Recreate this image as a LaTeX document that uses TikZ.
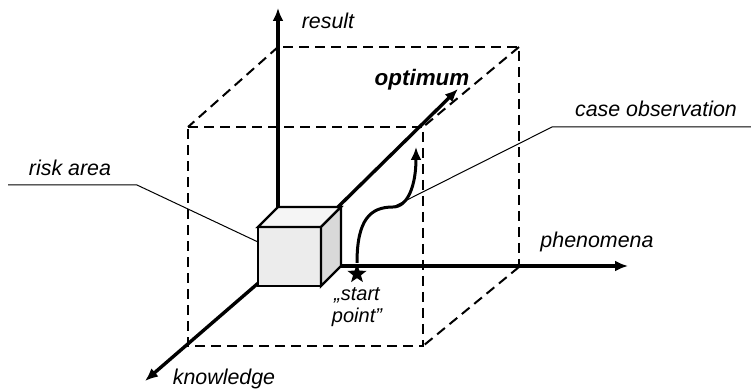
\documentclass[tikz,border=0pt]{standalone}
\usepackage{fontspec}
\setmainfont{Liberation Sans}
\usetikzlibrary{arrows.meta,shapes.geometric}

\begin{document}
\begin{tikzpicture}[x=0.5pt,y=-0.5pt,line join=miter,>={Latex[length=6.5pt,width=5.5pt]},
  axis/.style={line width=1.7pt,->},
  boxedge/.style={line width=1pt,dash pattern=on 5pt off 3pt},
  leader/.style={line width=0.5pt},
  lbl/.style={font=\fontsize{10.7}{12}\selectfont\itshape,inner sep=0pt}]
  \useasboundingbox (0,0) rectangle (751,389);
  % origin and axis ends
  \coordinate (O) at (278,266);
  \coordinate (res) at (278,8);
  \coordinate (phe) at (628,266);
  \coordinate (kno) at (145,381);
  \coordinate (opt) at (458,89);
  % dashed box
  \coordinate (bTL) at (278,47);
  \coordinate (bTR) at (519,47);
  \coordinate (bBR) at (519,267);
  \coordinate (fTL) at (188,127);
  \coordinate (fTR) at (423,127);
  \coordinate (fBR) at (423,346);
  \coordinate (fBL) at (188,346);
  \draw[boxedge] (O) -- (bTL) -- (bTR) -- (bBR);
  \draw[boxedge] (fTL) -- (fTR) -- (fBR) -- (fBL) -- cycle;
  \draw[boxedge] (bTL) -- (fTL);
  \draw[boxedge] (bTR) -- (fTR);
  \draw[boxedge] (bBR) -- (fBR);
  % axes
  \draw[axis] (O) -- (res);
  \draw[axis] (O) -- (phe);
  \draw[axis] (O) -- (kno);
  \draw[axis] (O) -- (opt);
  % risk area cube
  \coordinate (c1) at (258,227);
  \coordinate (c2) at (321,227);
  \coordinate (c3) at (321,286);
  \coordinate (c4) at (258,286);
  \coordinate (c5) at (278,207);
  \coordinate (c6) at (341,207);
  \coordinate (c7) at (341,266);
  \draw[line width=1.2pt,fill=gray!15] (c1) -- (c2) -- (c3) -- (c4) -- cycle;
  \draw[line width=1.2pt,fill=gray!8] (c1) -- (c5) -- (c6) -- (c2) -- cycle;
  \draw[line width=1.2pt,fill=gray!30] (c2) -- (c6) -- (c7) -- (c3) -- cycle;
  % start point and case observation path
  \node[star,star points=5,star point ratio=2.4,fill,inner sep=0pt,minimum size=10pt] (st) at (357,274) {};
  \coordinate (bend) at (393,207);
  \coordinate (obs) at (416,147);
  \draw[line width=1.5pt,->] (st.north) .. controls (357,220) and (370,207) .. (bend)
    .. controls (408,207) and (416,185) .. (obs);
  % labels
  \node[lbl] (lres) at (328,21) {result};
  \node[lbl,font=\fontsize{11.2}{13}\selectfont\itshape\bfseries] (lopt) at (422,80) {optimum};
  \node[lbl] (lphe) at (597,242) {phenomena};
  \node[lbl] (lkno) at (224,379) {knowledge};
  \node[lbl] (lcase) at (656,109) {case observation};
  \node[lbl] (lrisk) at (70,168) {risk area};
  \node[lbl,font=\fontsize{10}{11}\selectfont\itshape,align=center] (lst) at (357,307) {„start\\point”};
  % leaders
  \coordinate (riskA) at (8,185);
  \coordinate (riskB) at (137,185);
  \coordinate (riskC) at (258,242);
  \draw[leader] (riskA) -- (riskB) -- (riskC);
  \coordinate (caseA) at (751,127);
  \coordinate (caseB) at (552,127);
  \draw[leader] (caseA) -- (caseB) -- (bend);
\end{tikzpicture}
\end{document}
